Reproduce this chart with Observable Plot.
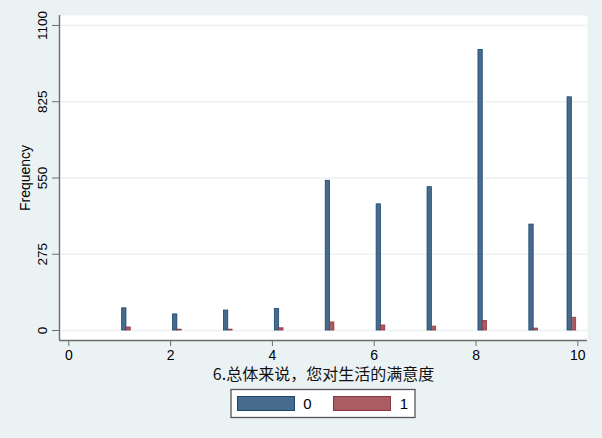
<!DOCTYPE html>
<html>
<head>
<meta charset="utf-8">
<script src="https://cdn.jsdelivr.net/npm/d3@7"></script>
<script src="https://cdn.jsdelivr.net/npm/@observablehq/plot@0.6"></script>
<style>
  html, body { margin: 0; padding: 0; background: #EAF2F3; }
  #chart { width: 602px; height: 438px; }
</style>
</head>
<body>
<div id="chart"></div>
<script>
// ---- data ----
const categories = [1, 2, 3, 4, 5, 6, 7, 8, 9, 10];
const xGroup0 = [1.09, 2.09, 3.09, 4.09, 5.09, 6.09, 7.09, 8.09, 9.09, 9.84];
const xGroup1 = [1.175, 2.175, 3.175, 4.175, 5.175, 6.175, 7.175, 8.175, 9.175, 9.925];
const freqGroup0 = [80, 58, 72, 78, 540, 455, 517, 1012, 382, 841];
const freqGroup1 = [11, 3, 3, 8, 29, 18, 14, 34, 7, 46];
const seriesNames = ["0", "1"];
const yTicks = [0, 275, 550, 825, 1100];
const xTicks = [0, 2, 4, 6, 8, 10];
const xLabel = "6.总体来说，您对生活的满意度";
const yLabel = "Frequency";

// ---- build table ----
const barWidth = 0.085;
const rows = [];
categories.forEach((c, i) => {
  rows.push({cat: c, group: seriesNames[0], x: xGroup0[i], freq: freqGroup0[i]});
  rows.push({cat: c, group: seriesNames[1], x: xGroup1[i], freq: freqGroup1[i]});
});

const fills = {"0": "#476B8D", "1": "#A95C62"};
const strokes = {"0": "#1A476F", "1": "#90353B"};

const xMin = -0.183, xMax = 10.19;
const yMin = -36.06, yMax = 1136.06;
const axisColor = "#6E6E6E";

const chart = Plot.plot({
  width: 602,
  height: 438,
  marginLeft: 59,
  marginRight: 15,
  marginTop: 15,
  marginBottom: 98,
  style: {background: "#EAF2F3", fontFamily: "'Liberation Sans', Arial, sans-serif", overflow: "visible"},
  x: {domain: [xMin, xMax]},
  y: {domain: [yMin, yMax]},
  marks: [
    Plot.frame({fill: "white", stroke: null}),
    Plot.ruleY(yTicks, {stroke: "#EAF2F3", strokeWidth: 1.3}),
    Plot.rectY(rows, {
      x1: d => d.x - barWidth / 2,
      x2: d => d.x + barWidth / 2,
      y1: 0,
      y2: "freq",
      fill: d => fills[d.group],
      stroke: d => strokes[d.group],
      strokeWidth: 0.8
    }),
    Plot.ruleX([xMin], {stroke: axisColor, strokeWidth: 1.4}),
    Plot.ruleY([yMin], {stroke: axisColor, strokeWidth: 1.4}),
    Plot.axisY({ticks: yTicks, tickSize: 7, tickFormat: () => "", stroke: axisColor, label: null}),
    Plot.text(yTicks, {
      x: xMin, y: d => d, text: d => String(d),
      rotate: -90, dx: -17, textAnchor: "middle", lineAnchor: "middle",
      fontSize: 13.5, fill: "black"
    }),
    Plot.axisX({ticks: xTicks, tickSize: 6, tickPadding: 4, fontSize: 14, stroke: axisColor, fill: "black", label: null}),
    Plot.text([xLabel], {
      frameAnchor: "bottom", dy: 34, lineAnchor: "middle", textAnchor: "middle",
      fontSize: 16, fill: "#111",
      fontFamily: "'Noto Sans CJK SC', 'Liberation Sans', sans-serif"
    }),
    Plot.text([yLabel], {
      frameAnchor: "left", dx: -34, rotate: -90, lineAnchor: "middle", textAnchor: "middle",
      fontSize: 14, fill: "black"
    })
  ]
});

document.getElementById("chart").appendChild(chart);

// ---- legend (inside the same svg) ----
const svg = d3.select(chart);
const lg = svg.append("g").attr("class", "legend");
lg.append("rect")
  .attr("x", 231).attr("y", 389.5).attr("width", 184).attr("height", 28)
  .attr("fill", "white").attr("stroke", "#555").attr("stroke-width", 1.3);
const items = [
  {name: seriesNames[0], kx: 237.5, tx: 307.5},
  {name: seriesNames[1], kx: 333.5, tx: 404}
];
items.forEach(it => {
  lg.append("rect")
    .attr("x", it.kx).attr("y", 396.5).attr("width", 57).attr("height", 14)
    .attr("fill", fills[it.name]).attr("stroke", strokes[it.name]).attr("stroke-width", 1);
  lg.append("text")
    .attr("x", it.tx).attr("y", 403.5)
    .attr("dy", "0.35em")
    .attr("text-anchor", "middle")
    .attr("font-size", 15)
    .attr("fill", "black")
    .text(it.name);
});
</script>
</body>
</html>
